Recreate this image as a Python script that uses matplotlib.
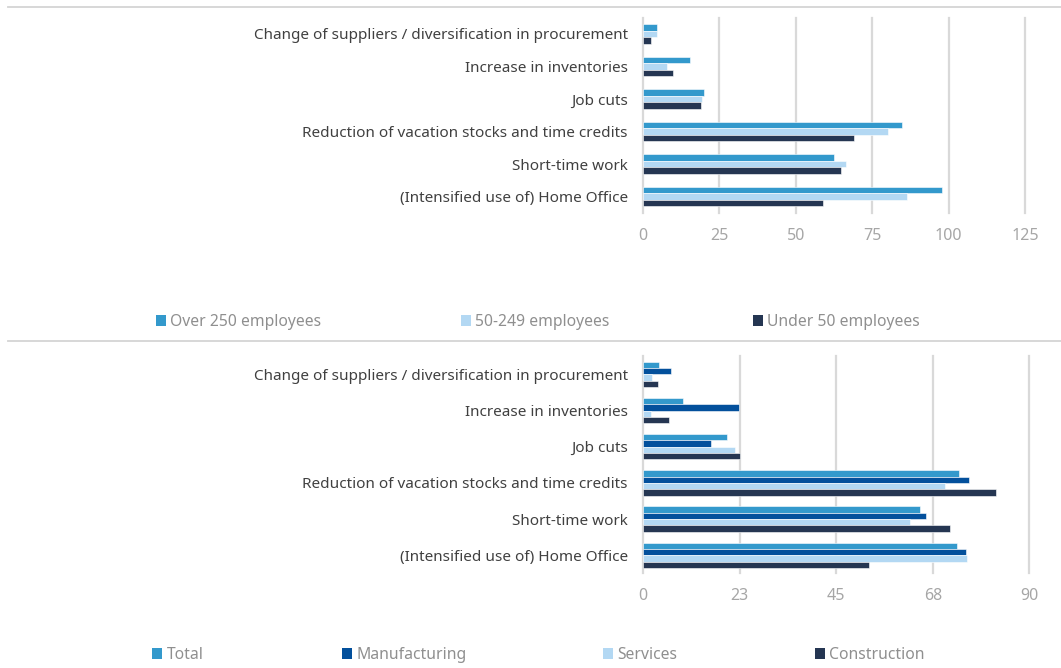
import matplotlib
matplotlib.use("Agg")
import matplotlib.pyplot as plt
from matplotlib.patches import Patch
from matplotlib.lines import Line2D
from matplotlib.transforms import ScaledTranslation
import numpy as np

# Measures taken by companies, by company size
measures = [
    "Change of suppliers / diversification in procurement",
    "Increase in inventories",
    "Job cuts",
    "Reduction of vacation stocks and time credits",
    "Short-time work",
    "(Intensified use of) Home Office",
]
size_labels = ["Over 250 employees", "50-249 employees", "Under 50 employees"]
over_250 = [4.7, 15.5, 19.8, 84.7, 62.4, 97.9]
from_50_249 = [4.5, 7.8, 19.4, 80.2, 66.3, 86.5]
under_50 = [2.6, 9.8, 19.0, 68.9, 64.9, 59.0]

# Measures taken by companies, by sector
sector_labels = ["Total", "Manufacturing", "Services", "Construction"]
total = [3.7, 9.4, 19.6, 73.6, 64.5, 73.1]
manufacturing = [6.5, 22.3, 15.8, 76.0, 65.9, 75.2]
services = [2.0, 1.9, 21.5, 70.3, 62.3, 75.6]
construction = [3.5, 6.1, 22.5, 82.2, 71.5, 52.6]

top_ticks = [0, 25, 50, 75, 100, 125]
bottom_ticks = [0, 22.5, 45, 67.5, 90]
bottom_tick_labels = ["0", "23", "45", "68", "90"]

C_MID = "#3399cc"
C_LIGHT = "#b3d8f3"
C_DARK = "#253652"
C_NAVY = "#03509c"

FONT = ["Noto Sans", "DejaVu Sans"]

W, H = 1061, 668
fig = plt.figure(figsize=(W / 100, H / 100), dpi=100)


def fx(px):
    return px / W


def fy(py):
    return 1 - py / H


def grouped_barh(ax, series, colors, bar_h, xmax, ticks, tick_labels):
    n = len(series)
    idx = np.arange(len(measures))
    for j, (vals, col) in enumerate(zip(series, colors)):
        ax.barh(idx + (j - (n - 1) / 2) * bar_h, vals, height=bar_h,
                color=col, edgecolor="white", linewidth=0.4, zorder=3)
    ax.set_xlim(0, xmax)
    ax.set_ylim(len(measures) - 0.5, -0.5)
    ax.set_yticks(idx)
    ax.set_yticklabels(measures, family=FONT, fontsize=11, color="#404040")
    lift = ScaledTranslation(0, 2 / 100, fig.dpi_scale_trans)
    for lbl in ax.get_yticklabels():
        lbl.set_transform(lbl.get_transform() + lift)
    ax.set_xticks(ticks)
    ax.set_xticklabels(tick_labels, family=FONT, fontsize=11.5, color="#a6a6a6")
    ax.tick_params(axis="both", length=0)
    ax.tick_params(axis="y", pad=11)
    ax.tick_params(axis="x", pad=10.5)
    ax.grid(axis="x", color="#d9d9d9", linewidth=1.6, zorder=0)
    for gl in ax.get_xgridlines():
        gl.set_clip_on(False)
    for s in ax.spines.values():
        s.set_visible(False)


# Upper chart: by company size
ax1 = fig.add_axes([fx(643), fy(213), fx(1025 - 643), fy(17.5) - fy(213)])
grouped_barh(ax1, [over_250, from_50_249, under_50], [C_MID, C_LIGHT, C_DARK],
             0.2, 125, top_ticks, [str(t) for t in top_ticks])

# Lower chart: by sector
ax2 = fig.add_axes([fx(643), fy(573.4), fx(1029.3 - 643), fy(356.4) - fy(573.4)])
grouped_barh(ax2, [total, manufacturing, services, construction],
             [C_MID, C_NAVY, C_LIGHT, C_DARK],
             0.175, 90, bottom_ticks, bottom_tick_labels)

# Divider lines between the panels
for yline in (7, 341):
    fig.add_artist(Line2D([fx(8), 1.0], [fy(yline), fy(yline)],
                          color="#d4d4d4", linewidth=1.3))


def legend_entry(label, color, x_px, y_px):
    leg = fig.legend(handles=[Patch(facecolor=color, edgecolor="none", label=label)],
                     loc="center left", bbox_to_anchor=(fx(x_px), fy(y_px)),
                     frameon=False, handlelength=0.62, handleheight=0.75,
                     handletextpad=0.3, borderpad=0, borderaxespad=0,
                     prop={"family": FONT, "size": 11.3})
    for t in leg.get_texts():
        t.set_color("#8f8f8f")


for label, col, x in zip(size_labels, [C_MID, C_LIGHT, C_DARK], [156, 461, 753]):
    legend_entry(label, col, x, 322)

for label, col, x in zip(sector_labels, [C_MID, C_NAVY, C_LIGHT, C_DARK],
                         [152, 342, 603, 815]):
    legend_entry(label, col, x, 655)

fig.savefig("out.png", dpi=100, facecolor="white")
